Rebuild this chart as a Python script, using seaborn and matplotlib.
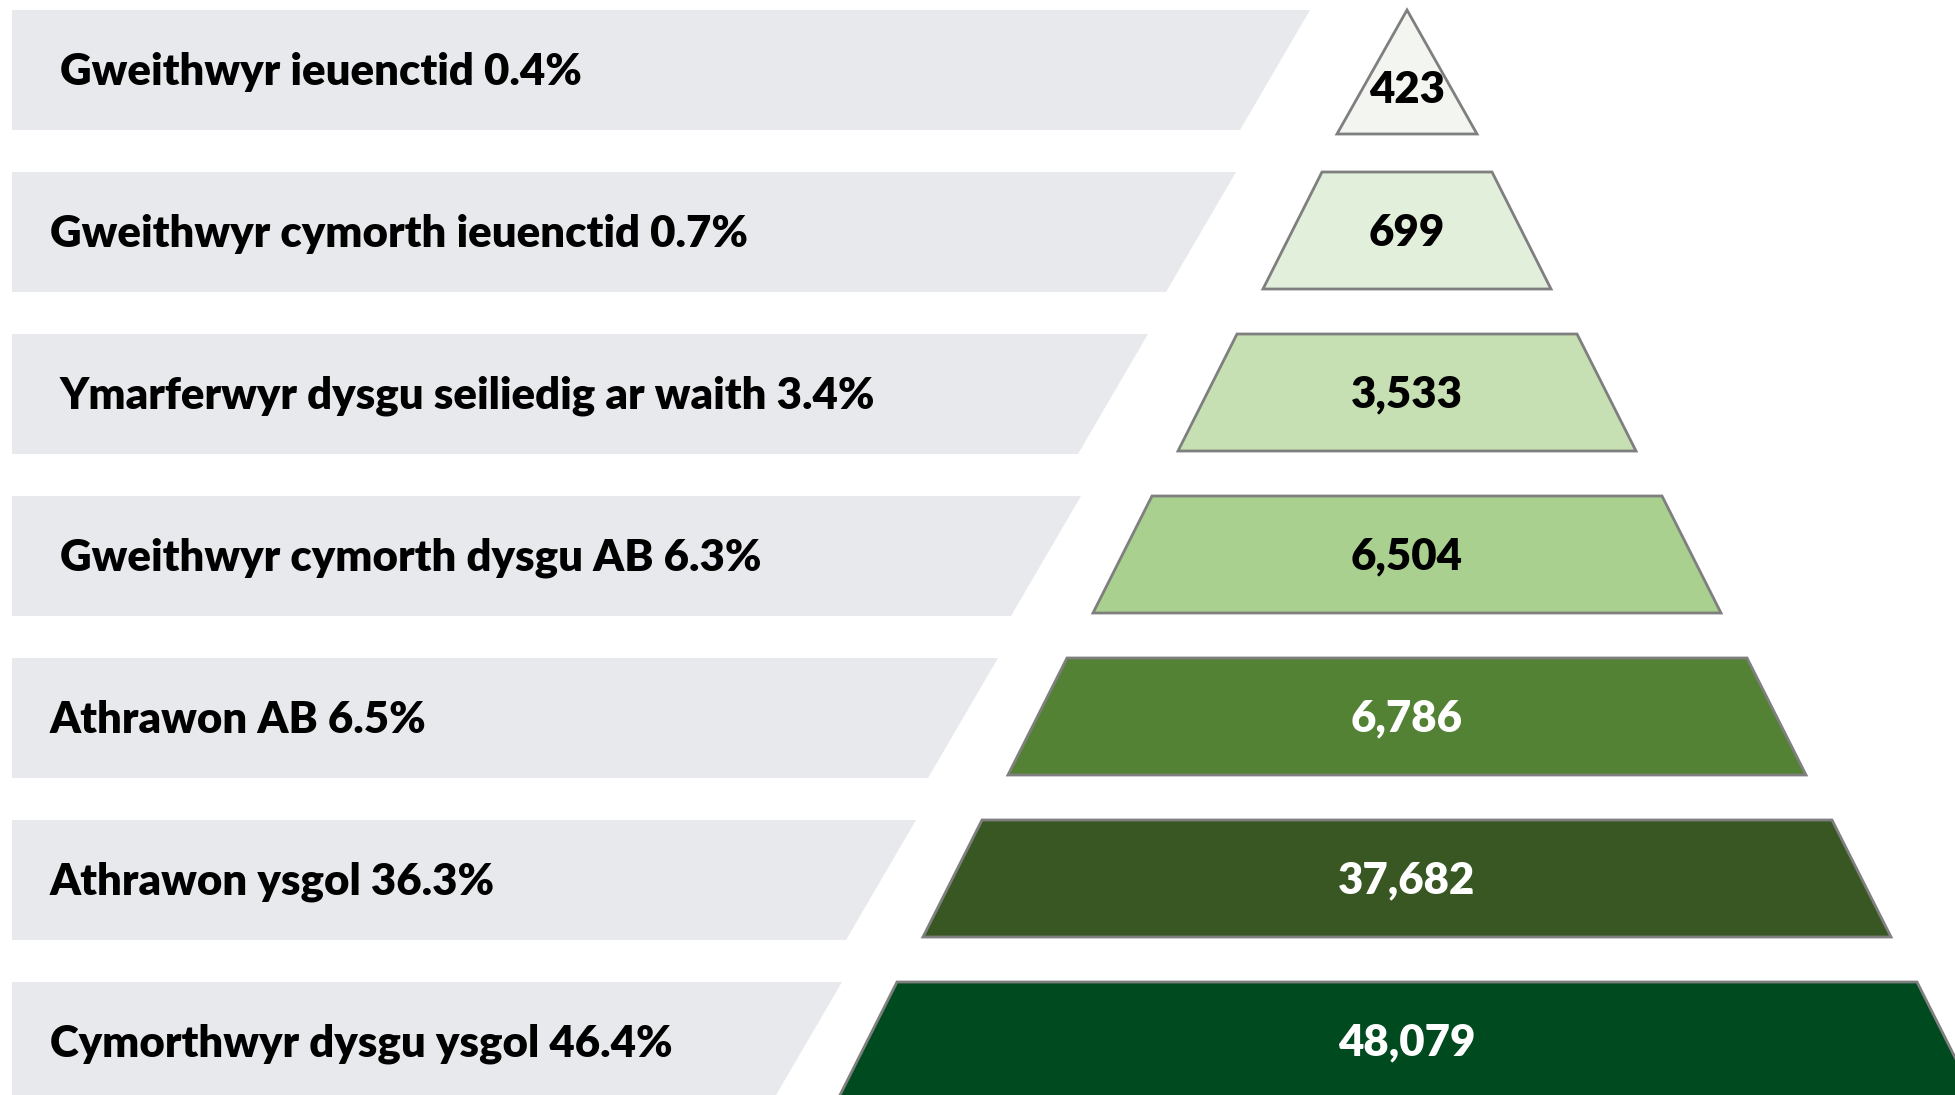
import numpy as np
import seaborn as sns
from matplotlib import pyplot as plt
from matplotlib.patches import Polygon

# data
roles = ['Gweithwyr ieuenctid', 'Gweithwyr cymorth ieuenctid',
         'Ymarferwyr dysgu seiliedig ar waith', 'Gweithwyr cymorth dysgu AB',
         'Athrawon AB', 'Athrawon ysgol', 'Cymorthwyr dysgu ysgol']
shares = [0.4, 0.7, 3.4, 6.3, 6.5, 36.3, 46.4]
counts = [423, 699, 3533, 6504, 6786, 37682, 48079]
fills = ['#f2f5f0', '#e2efda', '#c6e0b4', '#a9d08e', '#548235', '#385723', '#004a20']
text_cols = ['black', 'black', 'black', 'black', 'white', 'white', 'white']
label_x = [60, 50, 60, 60, 50, 50, 50]
gaps = [97, 97, 100, 82, 80, 77, 66]

sns.set_theme(style='white')
plt.rcParams['font.family'] = ['Lato', 'DejaVu Sans']

W, H = 1956, 1095
fig = plt.figure(figsize=(W / 100, H / 100), dpi=100)
ax = fig.add_axes([0, 0, 1, 1])
ax.set_xlim(0, W)
ax.set_ylim(H, 0)
ax.axis('off')

cx = 1407        # pyramid centre
pitch = 162      # row spacing
row_h = 117      # row height
step = 85        # half-width added per row
grow = 59        # half-width growth within a row
slant = 70       # grey band tip slant

for i, (role, pct, n) in enumerate(zip(roles, shares, counts)):
    top = 10 + pitch * i
    bot = top + row_h
    hw_top = step * i
    hw_bot = hw_top + (70 if i == 0 else grow)
    if i == 0:
        bot_tri = top + 124
        verts = [(cx, top), (cx + hw_bot, bot_tri), (cx - hw_bot, bot_tri)]
        ty = top + 80
    else:
        verts = [(cx - hw_top, top), (cx + hw_top, top),
                 (cx + hw_bot, bot), (cx - hw_bot, bot)]
        ty = top + row_h / 2 + 2
    ax.add_patch(Polygon(verts, closed=True, facecolor=fills[i],
                         edgecolor='#7f7f7f', linewidth=2, zorder=2))
    # grey label band
    gb = cx - hw_bot - gaps[i]
    gt = gb + slant
    band_bot = top + 120
    ax.add_patch(Polygon([(12, top), (gt, top), (gb, band_bot), (12, band_bot)],
                         closed=True, facecolor='#e7e9ec', edgecolor='none', zorder=1))
    ax.text(label_x[i], top + 62, f'{role} {pct}%', fontsize=31.5, fontweight='heavy',
            color='black', va='center', ha='left', zorder=3)
    ax.text(cx, ty, f'{n:,}', fontsize=31.5, fontweight='heavy',
            color=text_cols[i], va='center', ha='center', zorder=3)

fig.savefig('out.png', dpi=100, facecolor='white')
